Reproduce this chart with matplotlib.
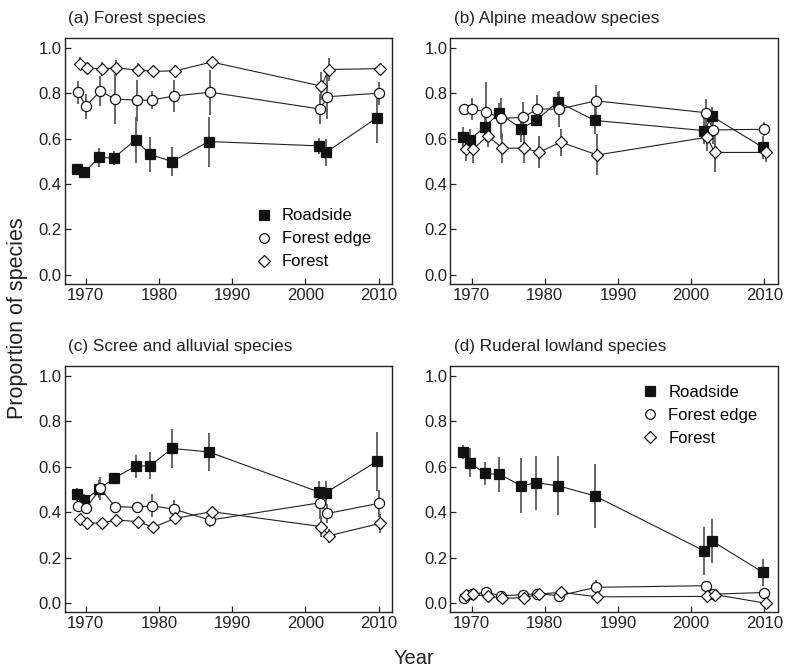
import matplotlib
matplotlib.use("Agg")
import matplotlib.pyplot as plt
from matplotlib.lines import Line2D
import numpy as np

plt.rcParams['font.family'] = ['Liberation Sans', 'DejaVu Sans']

years = [1969, 1970, 1972, 1974, 1977, 1979, 1982, 1987, 2002, 2003, 2010]
series_names = ["Roadside", "Forest edge", "Forest"]
panel_titles = ["(a) Forest species", "(b) Alpine meadow species",
                "(c) Scree and alluvial species", "(d) Ruderal lowland species"]

# Panel (a) Forest species
a_road = [0.467, 0.451, 0.517, 0.514, 0.594, 0.530, 0.499, 0.587, 0.568, 0.539, 0.692]
a_road_err = [0.02, 0.025, 0.04, 0.03, 0.10, 0.075, 0.065, 0.11, 0.035, 0.06, 0.11]
a_edge = [0.803, 0.743, 0.809, 0.774, 0.769, 0.769, 0.787, 0.804, 0.730, 0.784, 0.800]
a_edge_err = [0.05, 0.055, 0.065, 0.11, 0.09, 0.04, 0.07, 0.10, 0.065, 0.10, 0.05]
a_forest = [0.930, 0.911, 0.905, 0.911, 0.901, 0.896, 0.898, 0.937, 0.831, 0.904, 0.908]
a_forest_err = [0.03, 0.02, 0.03, 0.035, 0.03, 0.025, 0.025, 0.02, 0.06, 0.05, 0.02]

# Panel (b) Alpine meadow species
b_road = [0.606, 0.594, 0.653, 0.711, 0.644, 0.680, 0.762, 0.680, 0.635, 0.699, 0.561]
b_road_err = [0.045, 0.05, 0.05, 0.045, 0.06, 0.02, 0.045, 0.06, 0.06, 0.04, 0.05]
b_edge = [0.730, 0.730, 0.718, 0.689, 0.693, 0.730, 0.730, 0.766, 0.714, 0.638, 0.641]
b_edge_err = [0.02, 0.05, 0.13, 0.09, 0.07, 0.06, 0.08, 0.07, 0.06, 0.06, 0.03]
b_forest = [0.553, 0.553, 0.612, 0.558, 0.558, 0.540, 0.584, 0.528, 0.606, 0.539, 0.539]
b_forest_err = [0.05, 0.06, 0.05, 0.065, 0.065, 0.07, 0.06, 0.09, 0.06, 0.085, 0.04]

# Panel (c) Scree and alluvial species
c_road = [0.479, 0.454, 0.501, 0.549, 0.603, 0.605, 0.681, 0.666, 0.490, 0.486, 0.625]
c_road_err = [0.03, 0.025, 0.04, 0.02, 0.05, 0.06, 0.085, 0.085, 0.05, 0.05, 0.13]
c_edge = [0.429, 0.417, 0.505, 0.425, 0.422, 0.429, 0.414, 0.366, 0.442, 0.395, 0.439]
c_edge_err = [0.02, 0.02, 0.05, 0.02, 0.02, 0.05, 0.04, 0.03, 0.07, 0.04, 0.06]
c_forest = [0.369, 0.351, 0.354, 0.366, 0.359, 0.334, 0.373, 0.403, 0.337, 0.297, 0.351]
c_forest_err = [0.02, 0.015, 0.02, 0.02, 0.015, 0.02, 0.025, 0.02, 0.045, 0.03, 0.04]

# Panel (d) Ruderal lowland species
d_road = [0.666, 0.619, 0.571, 0.567, 0.517, 0.530, 0.517, 0.473, 0.230, 0.275, 0.136]
d_road_err = [0.03, 0.065, 0.05, 0.077, 0.12, 0.12, 0.13, 0.14, 0.105, 0.097, 0.06]
d_edge = [0.025, 0.040, 0.048, 0.033, 0.037, 0.042, 0.033, 0.070, 0.077, 0.040, 0.047]
d_edge_err = [0.01, 0.015, 0.015, 0.01, 0.01, 0.01, 0.01, 0.03, 0.02, 0.015, 0.02]
d_forest = [0.035, 0.040, 0.030, 0.022, 0.024, 0.040, 0.048, 0.028, 0.030, 0.038, 0.0]
d_forest_err = [0.01, 0.01, 0.01, 0.01, 0.01, 0.01, 0.015, 0.01, 0.01, 0.02, 0.01]

x_ticks = [1970, 1980, 1990, 2000, 2010]
y_ticks = [0.0, 0.2, 0.4, 0.6, 0.8, 1.0]

panels = [
    [(a_road, a_road_err), (a_edge, a_edge_err), (a_forest, a_forest_err)],
    [(b_road, b_road_err), (b_edge, b_edge_err), (b_forest, b_forest_err)],
    [(c_road, c_road_err), (c_edge, c_edge_err), (c_forest, c_forest_err)],
    [(d_road, d_road_err), (d_edge, d_edge_err), (d_forest, d_forest_err)],
]

styles = [
    dict(marker='s', mfc='#111111', mec='#111111', ms=7.0, offset=-0.2),
    dict(marker='o', mfc='white', mec='#111111', ms=7.3, offset=0.0),
    dict(marker='D', mfc='white', mec='#111111', ms=6.0, offset=0.2),
]

W, H = 786, 671
fig = plt.figure(figsize=(W / 100, H / 100), dpi=100)

ax_w, ax_h = 327.2, 246.3
lefts = [64.5, 450.3]
tops = [37.7, 366.0]
positions = [(lefts[0], tops[0]), (lefts[1], tops[0]), (lefts[0], tops[1]), (lefts[1], tops[1])]

axes = []
for i, (lx, ty) in enumerate(positions):
    ax = fig.add_axes([lx / W, 1 - (ty + ax_h) / H, ax_w / W, ax_h / H])
    axes.append(ax)
    for (vals, errs), st in zip(panels[i], styles):
        xs = np.array(years, dtype=float) + st['offset']
        ax.errorbar(xs, vals, yerr=errs, fmt='none', ecolor='#5a5a5a',
                    elinewidth=1.3, capsize=0, zorder=2)
    for (vals, errs), st in zip(panels[i], styles):
        xs = np.array(years, dtype=float) + st['offset']
        ax.plot(xs, vals, color='#222222', lw=0.8, zorder=3)
        ax.plot(xs, vals, linestyle='none', marker=st['marker'], mfc=st['mfc'],
                mec=st['mec'], ms=st['ms'], mew=0.9, zorder=4)
    ax.set_xlim(1967.1, 2011.8)
    ax.set_ylim(-0.04, 1.044)
    ax.set_xticks(x_ticks)
    ax.set_yticks(y_ticks)
    ax.set_yticklabels([f"{v:.1f}" for v in y_ticks])
    ax.tick_params(direction='in', length=4, width=0.9, labelsize=12,
                   colors='#222222', pad=3)
    ax.tick_params(axis='y', pad=2)
    for sp in ax.spines.values():
        sp.set_linewidth(1.0)
        sp.set_color('#222222')
    ax.text(0.012, 1.047, panel_titles[i], transform=ax.transAxes,
            fontsize=12.3, ha='left', va='bottom', color='#222222')

handles = [Line2D([], [], linestyle='none', marker=st['marker'], mfc=st['mfc'],
                  mec=st['mec'], ms=st['ms'] * 0.95, mew=0.9) for st in styles]

leg_kw = dict(frameon=False, fontsize=12, handlelength=1.0, handletextpad=0.6,
              borderpad=0, borderaxespad=0, labelspacing=0.48, loc='upper left')
axes[0].legend(handles, series_names, bbox_to_anchor=(0.583, 0.307), **leg_kw)
axes[3].legend(handles, series_names, bbox_to_anchor=(0.585, 0.924), **leg_kw)

fig.text(414 / W, 1 - 659 / H, "Year", fontsize=14.5, ha='center', va='center',
         color='#222222')
fig.text(18 / W, 1 - 318 / H, "Proportion of species", fontsize=15.5, rotation=90,
         ha='center', va='center', color='#222222')

fig.savefig("out.png", dpi=100)
